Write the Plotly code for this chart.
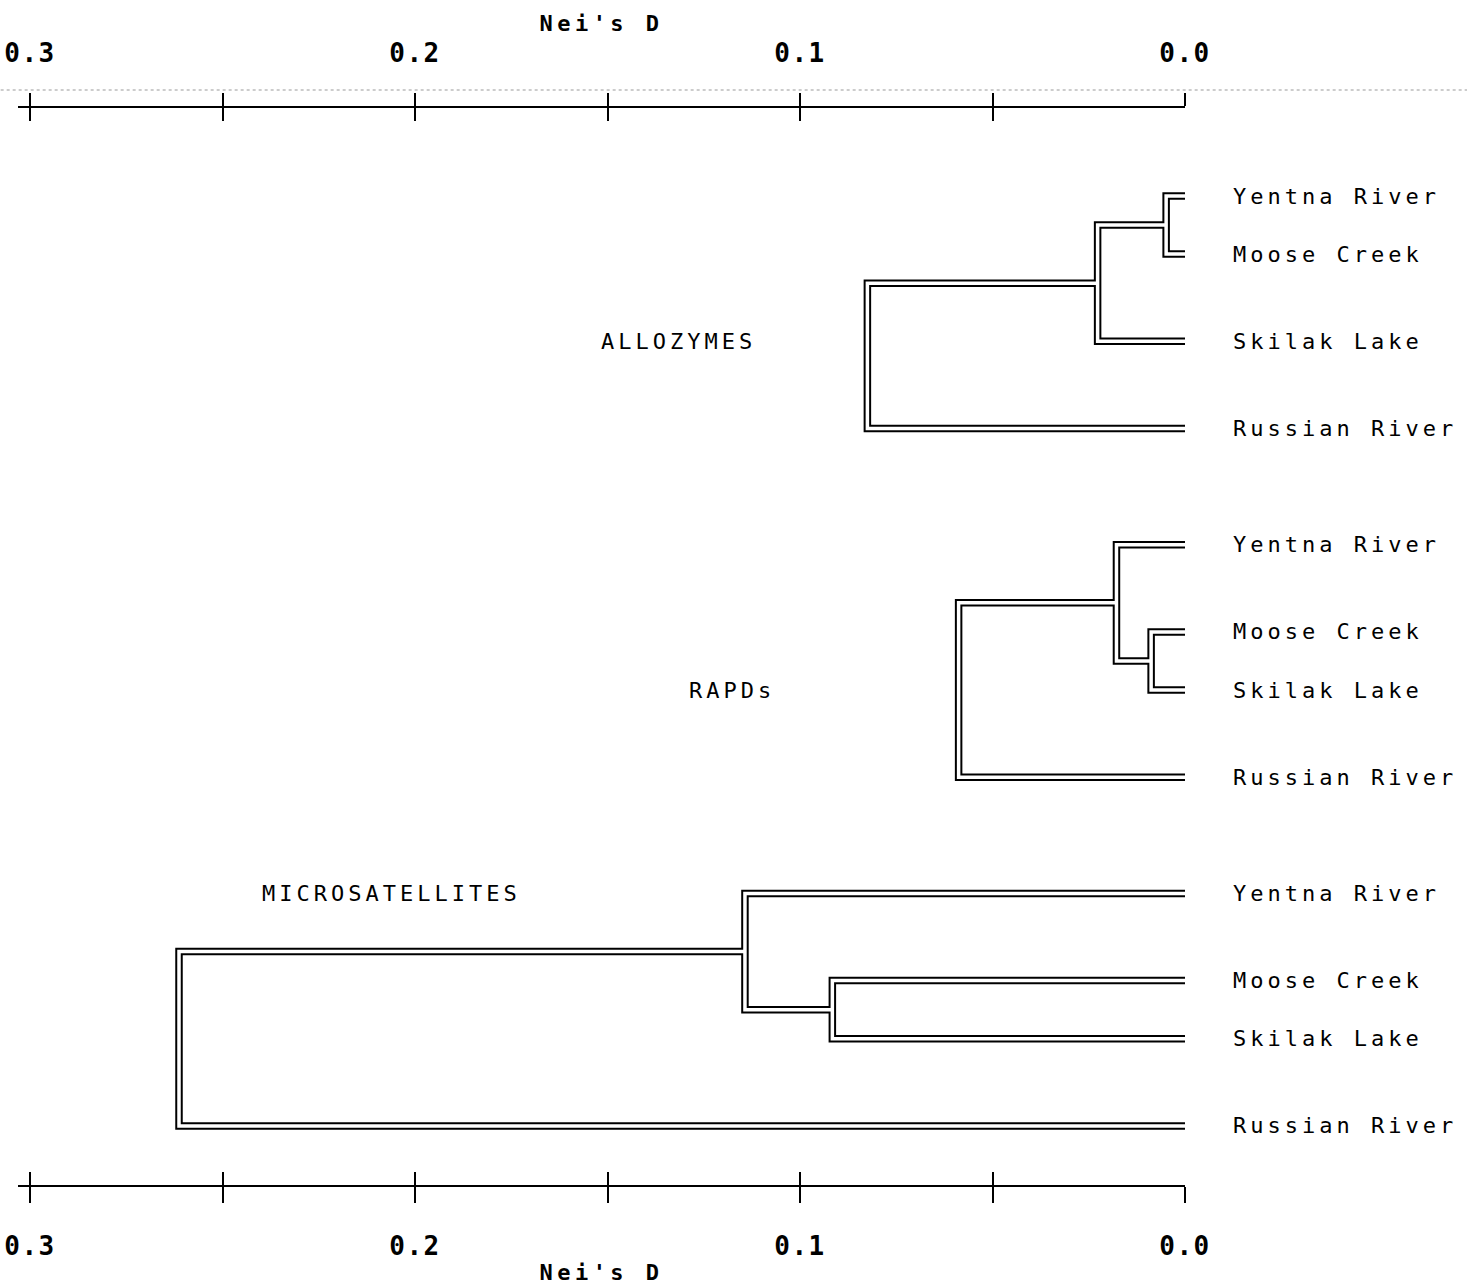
import plotly.graph_objects as go

# Populations and marker sets
populations = ["Yentna River", "Moose Creek", "Skilak Lake", "Russian River"]
marker_sets = ["ALLOZYMES", "RAPDs", "MICROSATELLITES"]

# UPGMA fusions, linkage style: (node a, node b, Nei's D); leaves are 0-3, new nodes 4, 5, ...
allozyme_tree = [(0, 1, 0.0049), (4, 2, 0.0227), (5, 3, 0.0825)]
rapd_tree = [(1, 2, 0.0088), (0, 4, 0.0178), (5, 3, 0.0588)]
microsat_tree = [(1, 2, 0.0916), (0, 4, 0.1143), (5, 3, 0.2613)]
trees = [allozyme_tree, rapd_tree, microsat_tree]

# Distance axis
tick_values = [0.3, 0.25, 0.2, 0.15, 0.1, 0.05, 0.0]
tick_labels = ["0.3", "", "0.2", "", "0.1", "", "0.0"]
axis_title = "Nei's D"

FONT = "DejaVu Sans Mono"
INK = "black"
PX_PER_UNIT = 3850     # horizontal scale of the distance axis
PLOT_W = 1167          # width of the tree panel in pixels
PX_PER_ROW = 29.06
GROUP_ROWS = 12


def spaced(text, px):
    return f'<span style="letter-spacing:{px}px">{text}</span>'


def leaf_rows(tree, start):
    # leaves joined directly as a pair sit two text rows apart, others three
    pairs = {frozenset((a, b)) for a, b, _ in tree if a < 4 and b < 4}
    rows = [start]
    for k in range(1, len(populations)):
        rows.append(rows[-1] + (2 if frozenset((k - 1, k)) in pairs else 3))
    return rows


def dendro_path(tree, rows):
    pos = {i: (0.0, r) for i, r in enumerate(rows)}
    xs, ys = [], []
    n = len(rows)
    for k, (a, b, d) in enumerate(tree):
        (xa, ya), (xb, yb) = pos[a], pos[b]
        xs += [xa, d, d, xb, None]
        ys += [ya, ya, yb, yb, None]
        pos[n + k] = (d, (ya + yb) / 2)
    return xs, ys


path_x, path_y, all_rows = [], [], []
for g, tree in enumerate(trees):
    rows = leaf_rows(tree, g * GROUP_ROWS)
    all_rows.append(rows)
    xs, ys = dendro_path(tree, rows)
    path_x += xs
    path_y += ys

fig = go.Figure()
# double-ruled branches: a wide black stroke with a white core on top
fig.add_trace(go.Scatter(x=path_x, y=path_y, mode="lines",
                         line=dict(color=INK, width=7.5), hoverinfo="skip"))
fig.add_trace(go.Scatter(x=path_x, y=path_y, mode="lines",
                         line=dict(color="white", width=3.5), hoverinfo="skip"))
# empty traces so the extra tick axes are laid out
for ax in ["x2", "x3", "x4"]:
    fig.add_trace(go.Scatter(x=[None], y=[None], xaxis=ax, yaxis="y",
                             mode="lines", hoverinfo="skip"))

label_font = dict(family=FONT, size=22, color=INK)
annotations = []
for rows in all_rows:
    for name, r in zip(populations, rows):
        annotations.append(dict(x=0, y=r, xref="x", yref="y", xanchor="left",
                                yanchor="middle", xshift=46, showarrow=False,
                                text=spaced(name, 4), font=label_font))

group_pos = [(0.1522, 5), (0.1294, 17), (0.2403, 24)]
for name, (gx, gy) in zip(marker_sets, group_pos):
    annotations.append(dict(x=gx, y=gy, xref="x", yref="y", xanchor="left",
                            yanchor="middle", showarrow=False,
                            text=spaced(name, 4), font=label_font))

x_range = [PLOT_W / PX_PER_UNIT, 0]
tick_font = dict(family=FONT, size=26, color=INK, weight="bold")
title_font = dict(family=FONT, size=22, color=INK, weight="bold")
spaced_ticks = [spaced(t, 1.5) if t else "" for t in tick_labels]

base_axis = dict(range=x_range, tickvals=tick_values, showgrid=False,
                 zeroline=False, tickcolor=INK, tickwidth=2, fixedrange=True,
                 automargin=False, ticklabeloverflow="allow")

fig.update_layout(
    width=1467, height=1285,
    margin=dict(l=18, r=1467 - 18 - PLOT_W, t=108, b=100),
    paper_bgcolor="white", plot_bgcolor="white",
    showlegend=False,
    annotations=annotations,
    xaxis=dict(base_axis, side="bottom", anchor="y", ticks="outside", ticklen=16,
               ticktext=spaced_ticks, tickfont=tick_font, ticklabelstandoff=21,
               showline=True, linecolor=INK, linewidth=1.5,
               title=dict(text=spaced(axis_title, 4.5), font=title_font, standoff=15)),
    xaxis3=dict(base_axis, side="bottom", anchor="y", overlaying="x",
                ticks="inside", ticklen=13, showticklabels=False, showline=False),
    xaxis2=dict(base_axis, side="top", anchor="y", overlaying="x", ticks="outside",
                ticklen=13, ticktext=spaced_ticks, tickfont=tick_font,
                ticklabelstandoff=21, showline=True, linecolor=INK, linewidth=1.5,
                title=dict(text=spaced(axis_title, 4.5), font=title_font, standoff=0)),
    xaxis4=dict(base_axis, side="top", anchor="y", overlaying="x",
                ticks="inside", ticklen=13, showticklabels=False, showline=False),
    yaxis=dict(range=[(1185 - 196) / PX_PER_ROW, (108 - 196) / PX_PER_ROW],
               visible=False, fixedrange=True, automargin=False),
    shapes=[dict(type="line", xref="paper", yref="paper", x0=-0.02, x1=1.25,
                 y0=1.0167, y1=1.0167,
                 line=dict(color="rgba(110,110,110,0.35)", width=2, dash="dot"))],
)

fig.write_html("out.html")
